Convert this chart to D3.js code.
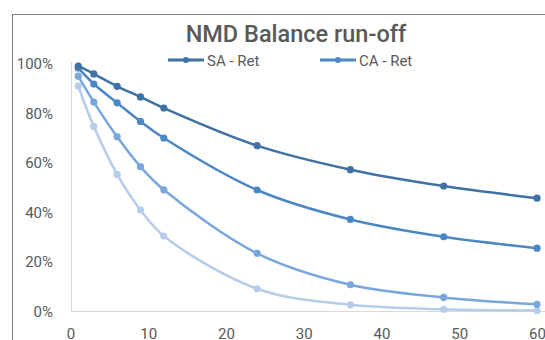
<!DOCTYPE html>
<html>
<head>
<meta charset="utf-8">
<script src="https://cdn.jsdelivr.net/npm/d3@7"></script>
<style>
  body { margin: 0; background: #fff; }
  text { font-family: Roboto, "Open Sans", sans-serif; fill: #595959; }
</style>
</head>
<body>
<script>
    var w = 545; //width of the SVG canvas
    var h = 340; //height of the SVG canvas

    // months on the x axis
    var months = [1, 3, 6, 9, 12, 24, 36, 48, 60];

    // run-off curves, share of balance left
    var saRet = [0.992, 0.96, 0.91, 0.867, 0.822, 0.67, 0.573, 0.507, 0.458];
    var caRet = [0.984, 0.919, 0.843, 0.768, 0.701, 0.491, 0.372, 0.302, 0.256];
    var series3 = [0.951, 0.846, 0.706, 0.585, 0.492, 0.235, 0.108, 0.057, 0.029];
    var series4 = [0.911, 0.747, 0.554, 0.41, 0.305, 0.092, 0.027, 0.009, 0.004];

    var seriesNames = ["SA - Ret", "CA - Ret", "", ""];
    var seriesColors = ["#3f71a4", "#4b87c4", "#79a6dc", "#b6cdea"];
    var xTicks = [0, 10, 20, 30, 40, 50, 60];
    var yTicks = [0, 0.2, 0.4, 0.6, 0.8, 1];

    var allSeries = [saRet, caRet, series3, series4];

    var xScale = d3.scaleLinear().domain([0, 60]).range([70.5, 537]);
    var yScale = d3.scaleLinear().domain([0, 1]).range([311.5, 64]);

    var svg = d3.select("body").append("svg")
        .attr("width", w)
        .attr("height", h);

    // chart frame (only top and left edges show)
    svg.append("rect")
        .attr("x", 12.5).attr("y", 14.5)
        .attr("width", 600).attr("height", 400)
        .attr("fill", "none")
        .attr("stroke", "#7f7f7f")
        .attr("stroke-width", 1);

    // title
    svg.append("text")
        .attr("x", 296).attr("y", 42)
        .attr("text-anchor", "middle")
        .attr("font-size", "23.5px")
        .attr("font-weight", "500")
        .text("NMD Balance run-off");

    // y axis
    var yAxis = d3.axisLeft(yScale)
        .tickValues(yTicks)
        .tickSize(0)
        .tickPadding(18)
        .tickFormat(d3.format(".0%"));
    var gy = svg.append("g")
        .attr("transform", "translate(71,0)")
        .call(yAxis);
    gy.select(".domain").attr("stroke", "#d9d9d9").attr("d", "M0.5,62V311.5");
    gy.selectAll("text").attr("font-size", "15px").attr("fill", "#707070")
        .attr("font-family", "Roboto, sans-serif");

    // x axis
    var xAxis = d3.axisBottom(xScale)
        .tickValues(xTicks)
        .tickSize(0)
        .tickPadding(17);
    var gx = svg.append("g")
        .attr("transform", "translate(0,311.5)")
        .call(xAxis);
    gx.select(".domain").attr("stroke", "#d9d9d9").attr("d", "M71,0H545");
    gx.selectAll("text").attr("font-size", "15px").attr("fill", "#707070")
        .attr("font-family", "Roboto, sans-serif");

    var line = d3.line()
        .x(function(d, i) { return xScale(months[i]); })
        .y(function(d) { return yScale(d); })
        .curve(d3.curveCatmullRom.alpha(0.5));

    // draw from lightest to darkest so the dark ones sit on top
    for (var s = allSeries.length - 1; s >= 0; s--) {
        svg.append("path")
            .datum(allSeries[s])
            .attr("d", line)
            .attr("fill", "none")
            .attr("stroke", seriesColors[s])
            .attr("stroke-width", 2.5);
        svg.selectAll(".pt" + s)
            .data(allSeries[s])
            .enter()
            .append("circle")
            .attr("cx", function(d, i) { return xScale(months[i]); })
            .attr("cy", function(d) { return yScale(d); })
            .attr("r", 3.6)
            .attr("fill", seriesColors[s]);
    }

    // legend, only the two named series
    var legendX = [168, 320];
    [0, 1].forEach(function(s) {
        var g = svg.append("g").attr("transform", "translate(" + legendX[s] + ",60)");
        g.append("line")
            .attr("x1", 0).attr("x2", 36)
            .attr("stroke", seriesColors[s])
            .attr("stroke-width", 3);
        g.append("circle").attr("cx", 18).attr("r", 3).attr("fill", seriesColors[s]);
        g.append("text")
            .attr("x", 39).attr("y", 5.5)
            .attr("font-size", "15px")
            .attr("fill", "#707070")
            .text(seriesNames[s]);
    });
</script>
</body>
</html>
